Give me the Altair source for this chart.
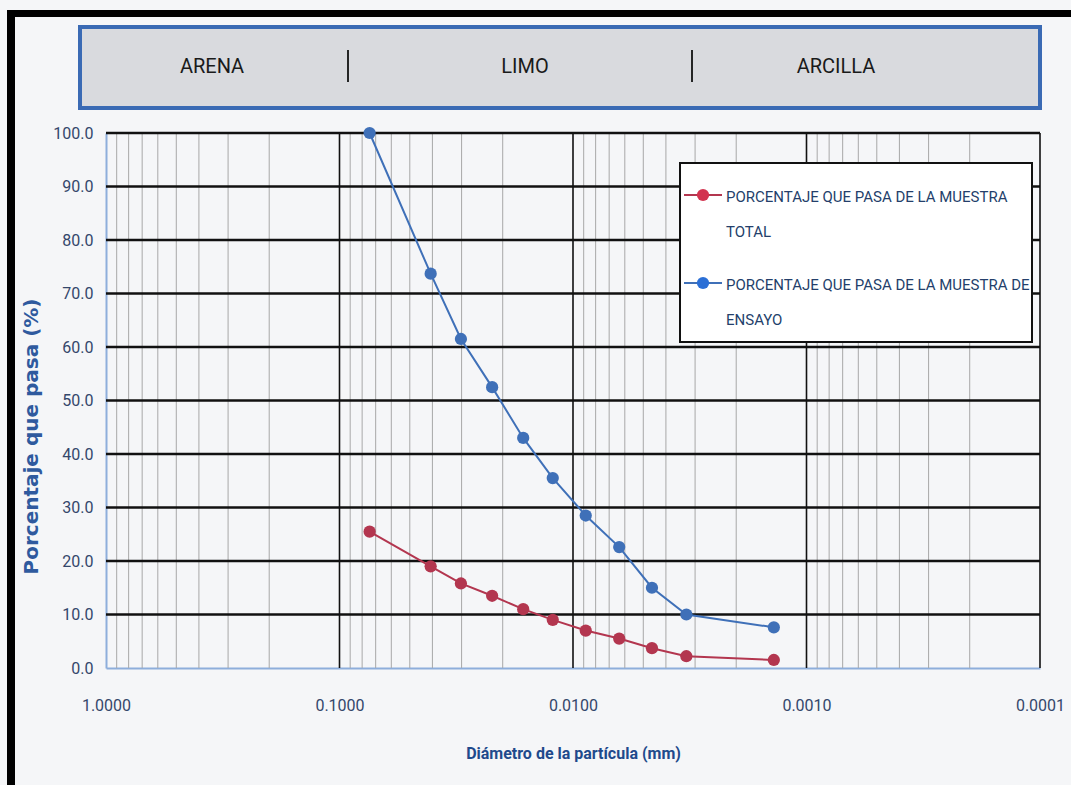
import altair as alt
import pandas as pd

# Hydrometer / sieve results: particle diameter (mm) and percent passing
diametro_mm = [0.0743, 0.0407, 0.0302, 0.0222, 0.01634, 0.01221,
               0.00882, 0.00634, 0.00459, 0.00327, 0.00138]
pasa_total = [25.5, 19.0, 15.8, 13.5, 11.0, 9.0, 7.0, 5.5, 3.7, 2.2, 1.5]
pasa_ensayo = [100.0, 73.7, 61.5, 52.5, 43.0, 35.5, 28.5, 22.6, 15.0, 10.0, 7.6]

series_names = ["PORCENTAJE QUE PASA DE LA MUESTRA TOTAL",
                "PORCENTAJE QUE PASA DE LA MUESTRA DE ENSAYO"]
legend_lines = [["PORCENTAJE QUE PASA DE LA MUESTRA", "TOTAL"],
                ["PORCENTAJE QUE PASA DE LA MUESTRA DE", "ENSAYO"]]
line_colors = ["#b3364f", "#3f70b8"]
point_colors = ["#d2334f", "#2b6fd6"]

zonas = ["ARENA", "LIMO", "ARCILLA"]

x_major = [1.0, 0.1, 0.01, 0.001, 0.0001]
x_minor = [m * 10.0 ** e for e in (-1, -2, -3, -4) for m in range(2, 10)]
y_ticks = [0, 10, 20, 30, 40, 50, 60, 70, 80, 90, 100]

NARROW = "Roboto"
W, H = 934, 535

xs = alt.Scale(type="log", domain=[0.0001, 1.0], reverse=True, nice=False)
ys = alt.Scale(domain=[0, 100], nice=False, zero=True)

rows = []
for name, vals in zip(series_names, [pasa_total, pasa_ensayo]):
    for d, p in zip(diametro_mm, vals):
        rows.append({"d": d, "p": p, "serie": name})
df = pd.DataFrame(rows)
one = pd.DataFrame({"k": [0]})

color_scale = alt.Scale(domain=series_names, range=line_colors)
point_scale = alt.Scale(domain=series_names, range=point_colors)

# gridlines
minor_rules = alt.Chart(pd.DataFrame({"d": x_minor})).mark_rule(
    color="#a8a8a8", strokeWidth=1
).encode(
    x=alt.X("d:Q", scale=xs,
            axis=alt.Axis(values=x_major, format=".4f", grid=False, ticks=False,
                          domainColor="#8eaedb", domainWidth=2,
                          labelFont=NARROW, labelFontSize=16, labelColor="#34476b",
                          labelPadding=29, labelFlush=False,
                          title="Diámetro de la partícula (mm)",
                          titleFont=NARROW, titleFontSize=16, titleFontWeight="bold",
                          titleColor="#1f4a8c", titleY=85, titleBaseline="middle")),
)

major_rules = alt.Chart(pd.DataFrame({"d": x_major[1:]})).mark_rule(
    color="#111111", strokeWidth=1.6
).encode(x=alt.X("d:Q", scale=xs))

h_rules = alt.Chart(pd.DataFrame({"p": y_ticks[1:]})).mark_rule(
    color="#111111", strokeWidth=2.6
).encode(
    y=alt.Y("p:Q", scale=ys,
            axis=alt.Axis(values=y_ticks, format=".1f", grid=False, ticks=False,
                          domainColor="#8eaedb", domainWidth=2,
                          labelFont=NARROW, labelFontSize=16, labelColor="#34476b",
                          labelPadding=13,
                          title="Porcentaje que pasa (%)",
                          titleFont="DejaVu Sans", titleFontSize=20,
                          titleFontWeight="bold", titleColor="#2f5a9e",
                          titleX=-75, titleY=303, titleBaseline="middle")),
)

lines = alt.Chart(df).mark_line(strokeWidth=2).encode(
    x=alt.X("d:Q", scale=xs),
    y=alt.Y("p:Q", scale=ys),
    color=alt.Color("serie:N", scale=color_scale, legend=None),
    order=alt.Order("d:Q", sort="descending"),
)

points = alt.Chart(df).mark_circle(size=150, opacity=1).encode(
    x=alt.X("d:Q", scale=xs),
    y=alt.Y("p:Q", scale=ys),
    color=alt.Color("serie:N", scale=point_scale, legend=None),
)

layers = [minor_rules, major_rules, h_rules, lines, points]

# page frame (dark scan border on the left and top)
layers.append(alt.Chart(one).mark_rect(color="#000000").encode(
    x=alt.value(-99), x2=alt.value(-91), y=alt.value(-123), y2=alt.value(H + 117)))
layers.append(alt.Chart(one).mark_rect(color="#000000").encode(
    x=alt.value(-99), x2=alt.value(W + 31), y=alt.value(-123), y2=alt.value(-116)))

# soil classification header band
layers.append(alt.Chart(one).mark_rect(
    fill="#d9dade", stroke="#3a6ab4", strokeWidth=4
).encode(x=alt.value(-26), x2=alt.value(934), y=alt.value(-106), y2=alt.value(-25)))
for xpos in (242, 586):
    layers.append(alt.Chart(one).mark_rule(color="#111111", strokeWidth=1.8).encode(
        x=alt.value(xpos), y=alt.value(-83), y2=alt.value(-51)))
for label, xpos in zip(zonas, (106, 419, 730)):
    layers.append(alt.Chart(pd.DataFrame({"t": [label]})).mark_text(
        font=NARROW, fontSize=20, color="#1a1a1a", align="center", baseline="middle"
    ).encode(x=alt.value(xpos), y=alt.value(-66), text="t:N"))

# legend
layers.append(alt.Chart(one).mark_rect(
    fill="#ffffff", stroke="#111111", strokeWidth=2
).encode(x=alt.value(574), x2=alt.value(926), y=alt.value(30), y2=alt.value(209)))
for i, ypos in enumerate((62, 150)):
    layers.append(alt.Chart(one).mark_rule(color=line_colors[i], strokeWidth=2.2).encode(
        x=alt.value(578), x2=alt.value(616), y=alt.value(ypos)))
    layers.append(alt.Chart(one).mark_circle(size=150, opacity=1, color=point_colors[i]).encode(
        x=alt.value(597), y=alt.value(ypos)))
    for j, txt in enumerate(legend_lines[i]):
        layers.append(alt.Chart(pd.DataFrame({"t": [txt]})).mark_text(
            font=NARROW, fontSize=15, color="#243f6b", align="left", baseline="middle"
        ).encode(x=alt.value(620), y=alt.value(ypos + 2 + 35 * j), text="t:N"))

chart = alt.layer(*layers).properties(
    width=W, height=H,
    autosize=alt.AutoSizeParams(type="none"),
    padding={"left": 106, "top": 133, "right": 31, "bottom": 117},
    background="#f5f6f8",
).configure_view(stroke=None)

chart.save("out.html", embed_options={"renderer": "svg", "actions": False})
